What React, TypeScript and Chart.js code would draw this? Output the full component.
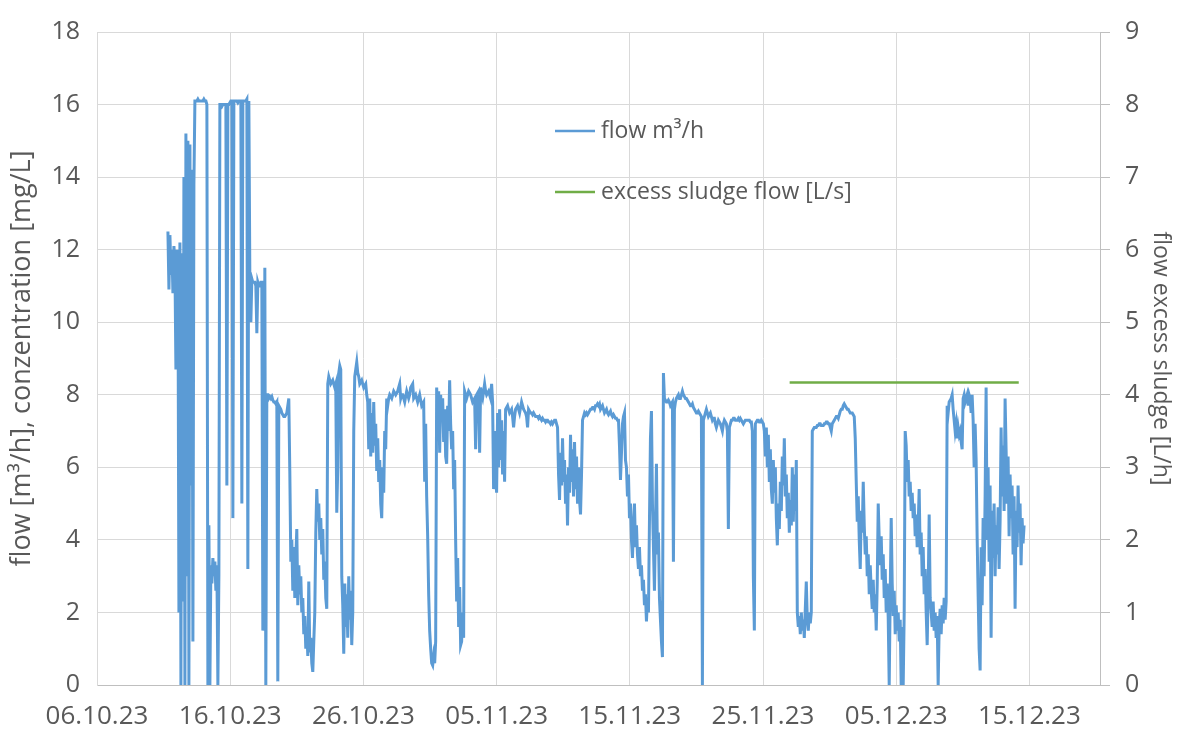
import React, { useEffect, useRef } from 'react';
import { Chart, registerables } from 'chart.js';

Chart.register(...registerables);

// ---- X axis: days since 06.10.23 ----
const tickDays = [0, 10, 20, 30, 40, 50, 60, 70];
const tickLabels = ['06.10.23', '16.10.23', '26.10.23', '05.11.23', '15.11.23', '25.11.23', '05.12.23', '15.12.23'];
const axisMaxDay = 75.3;

// ---- flow m³/h on a regular 1.8 h grid ----
const flowStartDay = 5.325; // 11.10.23 07:48
const flowStepDays = 0.075; // 1.8 h
const flowValues = [
  12.5, 10.9, 12.4, 11.3, 12.0, 10.8, 12.1, 11.6, 8.7, 12.0,
  11.8, 2.0, 12.2, 0, 11.9, 2.3, 14.0, 0, 15.2, 3.0,
  15.0, 0, 14.9, 5.5, 14.2, 1.2, 13.8, 16.1, 16.1, 16.1,
  16.15, 16.1, 16.1, 16.1, 16.1, 16.1, 16.15, 16.1, 16.1, 16.0,
  0, 4.4, 0, 3.3, 2.8, 3.5, 3.0, 3.4, 2.6, 3.3,
  0, 3.0, 16.0, 16.0, 15.95, 16.0, 16.0, 16.0, 16.0, 5.5,
  16.0, 16.0, 16.05, 16.1, 16.1, 4.6, 16.1, 16.1, 16.1, 16.1,
  16.05, 16.1, 16.1, 16.1, 5.0, 16.1, 16.1, 16.1, 16.1, 16.15,
  3.2, 16.1, 11.3, 10.0, 11.2, 11.1, 11.1, 11.1, 11.0, 9.7,
  11.1, 11.0, 11.0, 11.1, 11.1, 1.5, 2.3, 11.5, 0, 8.0,
  8.0, 7.9, 7.95, 7.9, 7.95, 7.85, 7.8, 7.8, 7.75, 7.8,
  0.1, 7.7, 7.65, 7.6, 7.5, 7.45, 7.4, 7.4, 7.45, 7.5,
  7.7, 7.9, 5.9, 3.4, 4.0, 2.6, 3.8, 2.4, 3.5, 4.3,
  2.2, 3.3, 2.5, 3.0, 2.0, 2.4, 1.4, 1.9, 1.0, 1.6,
  0.8, 2.85, 0.9, 1.3, 0.6, 0.36, 1.2, 2.0, 4.2, 5.4,
  4.5, 5.0, 4.0, 4.6, 3.6, 4.3, 2.9, 3.4, 2.4, 2.1,
  8.3, 8.5, 8.4, 8.3, 8.35, 8.4, 8.3, 8.2, 8.3, 4.75,
  6.0, 8.6, 8.8, 8.7, 3.0, 2.2, 0.86, 2.8, 1.6, 2.5,
  1.3, 3.0, 1.8, 2.6, 1.1, 2.0, 7.0, 8.5, 8.7, 8.9,
  8.6, 8.5, 8.3, 8.35, 8.4, 8.3, 8.2, 8.25, 8.3, 8.0,
  7.8, 6.5, 7.9, 6.3, 7.5, 6.4, 7.8, 6.6, 7.2, 5.9,
  6.8, 5.6, 6.2, 5.0, 4.6, 6.0, 5.3, 7.0, 6.5, 7.9,
  7.7, 7.9, 8.0, 7.95, 7.9, 8.0, 8.1, 8.05, 8.0, 8.05,
  8.1, 8.2, 8.3, 7.9, 8.0, 8.0, 7.9, 7.8, 7.95, 8.1,
  8.0, 7.9, 8.0, 8.2, 8.25, 8.3, 7.9, 7.95, 8.0, 7.9,
  7.8, 7.9, 8.0, 7.85, 7.7, 7.75, 7.8, 5.6, 7.2, 5.2,
  4.1, 2.5, 1.5, 1.0, 0.6, 0.54, 0.8, 0.6, 1.2, 8.2,
  7.5, 8.1, 6.4, 8.0, 7.3, 7.9, 6.7, 7.6, 6.3, 6.1,
  7.7, 7.0, 8.4, 7.2, 6.5, 7.0, 5.4, 6.2, 4.0, 2.3,
  3.5, 1.6, 2.7, 1.1, 1.2, 2.0, 1.3, 8.1, 8.0, 7.9,
  8.0, 8.1, 8.05, 8.0, 7.9, 7.8, 7.85, 7.9, 6.5, 8.0,
  8.05, 8.1, 6.4, 8.2, 8.0, 7.9, 8.1, 8.3, 8.1, 8.0,
  8.05, 8.1, 8.0, 7.9, 8.3, 7.8, 5.4, 7.0, 5.8, 5.3,
  7.5, 6.0, 7.6, 6.2, 7.3, 5.8, 7.0, 5.6, 7.6, 7.65,
  7.7, 7.6, 7.5, 7.55, 7.6, 7.4, 7.1, 7.4, 7.6, 7.65,
  7.7, 7.6, 7.5, 7.65, 7.8, 7.7, 7.6, 7.55, 7.5, 7.4,
  7.1, 7.6, 7.55, 7.5, 7.5, 7.45, 7.5, 7.45, 7.4, 7.4,
  7.4, 7.35, 7.4, 7.35, 7.3, 7.35, 7.3, 7.3, 7.25, 7.3,
  7.3, 7.25, 7.25, 7.2, 7.25, 7.2, 7.25, 7.3, 7.3, 7.2,
  7.1, 5.8, 5.1, 6.4, 5.5, 6.8, 5.6, 6.2, 5.0, 5.8,
  4.4, 6.0, 5.3, 6.9, 5.6, 6.5, 5.2, 6.7, 5.4, 6.3,
  5.0, 6.0, 5.1, 4.7, 5.8, 7.3, 7.4, 7.5, 7.45, 7.5,
  7.45, 7.5, 7.55, 7.6, 7.6, 7.65, 7.65, 7.6, 7.7, 7.7,
  7.75, 7.7, 7.75, 7.6, 7.65, 7.7, 7.6, 7.5, 7.55, 7.6,
  7.5, 7.45, 7.5, 7.55, 7.45, 7.4, 7.45, 7.4, 7.35, 7.35,
  7.3, 7.3, 6.6, 5.65, 6.4, 7.2, 7.4, 7.5, 6.2, 6.0,
  5.2, 5.8, 4.6, 5.0, 4.0, 3.5, 4.4, 5.0, 3.8, 4.4,
  3.6, 3.2, 3.8, 3.0, 3.3, 2.6, 2.9, 2.2, 2.5, 1.75,
  2.4, 2.0, 4.5, 6.8, 7.55, 5.0, 3.8, 2.6, 4.4, 6.1,
  3.6, 4.2, 2.4, 1.8, 1.2, 0.77, 8.6, 7.9, 7.85, 7.8,
  7.8, 7.85, 7.8, 7.7, 7.75, 7.8, 3.4, 7.6, 7.8, 7.9,
  7.95, 8.0, 7.9, 7.9, 8.0, 8.1, 8.0, 7.95, 7.9, 7.9,
  7.85, 7.8, 7.75, 7.7, 7.7, 7.75, 7.65, 7.6, 7.55, 7.5,
  7.5, 7.55, 7.5, 7.45, 7.4, 0, 7.3, 7.4, 7.5, 7.6,
  7.5, 7.4, 7.45, 7.5, 7.4, 7.3, 7.35, 7.35, 7.2, 7.1,
  7.2, 7.3, 7.25, 7.2, 7.1, 7.0, 7.2, 7.3, 7.25, 7.2,
  7.0, 4.3, 7.1, 7.2, 7.3, 7.3, 7.35, 7.35, 7.3, 7.3,
  7.3, 7.35, 7.3, 7.35, 7.3, 7.25, 7.2, 7.25, 7.3, 7.3,
  7.3, 7.3, 7.3, 7.25, 7.25, 7.0, 3.0, 1.5, 7.2, 7.25,
  7.3, 7.3, 7.25, 7.25, 7.3, 7.25, 7.2, 7.0, 6.3, 7.1,
  6.0, 6.9, 5.6, 6.5, 5.4, 5.0, 6.2, 5.3, 6.0, 4.6,
  3.85, 5.0, 4.3, 5.6, 4.8, 6.3, 5.5, 6.8, 5.2, 5.8,
  4.6, 5.3, 4.2, 5.1, 4.4, 6.0, 4.5, 5.8, 4.8, 6.2,
  2.0, 1.6, 1.9, 1.4, 2.0, 1.5, 1.8, 1.3, 2.1, 2.85,
  1.8, 1.5, 2.0, 1.7, 2.0, 7.0, 7.05, 7.1, 7.1, 7.1,
  7.15, 7.15, 7.2, 7.2, 7.15, 7.15, 7.15, 7.2, 7.2, 7.25,
  7.25, 7.2, 7.2, 7.1, 7.0, 7.2, 7.25, 7.3, 7.35, 7.4,
  7.4, 7.35, 7.45, 7.55, 7.6, 7.6, 7.7, 7.75, 7.7, 7.65,
  7.6, 7.6, 7.55, 7.5, 7.5, 7.5, 7.45, 7.4, 6.8, 5.6,
  4.5, 5.2, 4.0, 3.2, 4.8, 4.2, 5.6, 4.4, 3.6, 4.1,
  3.0, 3.6, 2.5, 3.3, 2.6, 2.1, 2.9, 2.0, 2.5, 1.5,
  2.8, 5.0, 4.0, 3.3, 4.1, 2.9, 3.6, 2.4, 3.2, 2.0,
  2.8, 1.85, 0, 2.5, 4.6, 2.8, 1.9, 2.6, 1.4, 2.2,
  1.5, 2.0, 1.2, 1.8, 0, 1.6, 0, 2.0, 7.0, 6.6,
  5.6, 6.2, 5.2, 5.6, 4.8, 5.3, 4.6, 5.0, 4.1, 4.7,
  3.8, 4.4, 5.4, 3.6, 4.2, 3.0, 3.8, 2.5, 3.2, 2.0,
  1.1, 2.6, 4.7, 2.4, 2.0, 1.6, 2.3, 1.5, 2.0, 1.3,
  1.9, 0, 1.6, 2.1, 1.4, 2.2, 1.7, 2.4, 1.8, 2.3,
  7.7, 7.5, 7.8, 7.85, 7.9, 8.0, 7.6, 7.3, 7.0, 7.2,
  6.8, 7.1, 6.9, 7.0, 6.7, 6.5, 7.9, 8.0, 7.8, 7.9,
  8.0, 7.7, 8.0, 7.9, 7.5, 8.0, 7.3, 6.0, 7.2, 6.2,
  4.1, 2.5, 1.0, 0.4, 3.8, 2.2, 4.6, 3.0, 5.2, 8.2,
  4.0, 6.0, 3.4, 5.5, 1.3, 4.8, 3.5, 5.0, 3.0, 4.4,
  3.6, 4.9, 3.2, 4.5, 7.1, 5.2, 6.6, 4.8, 7.9, 6.5,
  5.0, 6.3, 4.1, 5.8, 4.6, 5.5, 3.6, 5.2, 2.1, 4.8,
  3.8, 5.5, 4.2, 5.0, 3.3, 4.6, 3.9, 4.4,
];

// ---- excess sludge flow [L/s] (right axis) ----
const sludgeDays = [52.0, 69.2];
const sludgeValues = [4.17, 4.17];

const seriesLabels = ['flow m³/h', 'excess sludge flow [L/s]'];
const leftTitle = 'flow [m³/h], conzentration [mg/L]';
const rightTitle = 'flow excess sludge [L/h]';

const FONT = "'Open Sans', sans-serif";
const TEXT = '#595959';
const BLUE = '#5B9BD5';
const GREEN = '#70AD47';
const GRID = '#D9D9D9';
const AXIS = '#BFBFBF';

const legendPlugin = {
  id: 'insideLegend',
  afterDatasetsDraw(chart: any) {
    const ctx = chart.ctx;
    const rows = [
      { y: 131, ds: 0 },
      { y: 192, ds: 1 },
    ];
    ctx.save();
    rows.forEach((r) => {
      const ds = chart.data.datasets[r.ds];
      ctx.strokeStyle = ds.borderColor;
      ctx.lineWidth = 2.5;
      ctx.beginPath();
      ctx.moveTo(555, r.y);
      ctx.lineTo(595, r.y);
      ctx.stroke();
      ctx.fillStyle = TEXT;
      ctx.font = `23px ${FONT}`;
      ctx.textAlign = 'left';
      ctx.textBaseline = 'middle';
      ctx.fillText(ds.label, 601, r.y);
    });
    ctx.restore();
  },
};

export default function App() {
  const ref = useRef<HTMLCanvasElement | null>(null);

  useEffect(() => {
    if (!ref.current) return;
    const xTickFont = { family: FONT, size: 26 };
    const yTickFont = { family: FONT, size: 25 };
    const chart = new Chart(ref.current, {
      type: 'line',
      data: {
        datasets: [
          {
            label: seriesLabels[0],
            data: flowValues.map((v, i) => ({ x: flowStartDay + i * flowStepDays, y: v })),
            borderColor: BLUE,
            backgroundColor: BLUE,
            borderWidth: 3,
            pointRadius: 0,
            tension: 0,
            yAxisID: 'y',
          },
          {
            label: seriesLabels[1],
            data: sludgeDays.map((d, i) => ({ x: d, y: sludgeValues[i] })),
            borderColor: GREEN,
            backgroundColor: GREEN,
            borderWidth: 2.5,
            pointRadius: 0,
            tension: 0,
            yAxisID: 'y2',
          },
        ],
      },
      options: {
        responsive: false,
        animation: false,
        layout: { padding: { top: 22, left: 0, right: 0, bottom: 0 } },
        plugins: { legend: { display: false }, tooltip: { enabled: false } },
        scales: {
          x: {
            type: 'linear',
            min: 0,
            max: axisMaxDay,
            afterBuildTicks: (s: any) => {
              s.ticks = tickDays.map((v) => ({ value: v }));
            },
            afterFit: (s: any) => {
              s.height = 48;
            },
            ticks: {
              autoSkip: false,
              maxRotation: 0,
              padding: 16,
              color: TEXT,
              font: xTickFont,
              callback: (_v: any, i: number) => tickLabels[i] ?? '',
            },
            grid: { color: GRID, drawTicks: false },
            border: { color: AXIS },
          },
          y: {
            position: 'left',
            min: 0,
            max: 18,
            afterFit: (s: any) => {
              s.width = 97;
            },
            ticks: { stepSize: 2, padding: 17, color: TEXT, font: yTickFont },
            grid: { color: GRID, drawTicks: false },
            border: { color: GRID },
            title: {
              display: true,
              text: leftTitle,
              color: TEXT,
              font: { family: FONT, size: 27 },
              padding: { top: 6, bottom: 0 },
            },
          },
          y2: {
            position: 'right',
            min: 0,
            max: 9,
            afterFit: (s: any) => {
              s.width = 82;
            },
            ticks: { stepSize: 1, padding: 15, color: TEXT, font: yTickFont },
            grid: { drawOnChartArea: false, color: AXIS, tickLength: 10 },
            border: { color: AXIS },
            title: {
              display: true,
              text: rightTitle,
              color: TEXT,
              font: { family: FONT, size: 23 },
              padding: { top: 8, bottom: 0 },
            },
          },
        },
      },
      plugins: [legendPlugin],
    } as any);
    return () => chart.destroy();
  }, []);

  return (
    <div style={{ position: 'fixed', left: 0, top: 0, width: 1182, height: 733, background: '#fff' }}>
      <canvas ref={ref} width={1182} height={733} style={{ display: 'block' }} />
    </div>
  );
}
